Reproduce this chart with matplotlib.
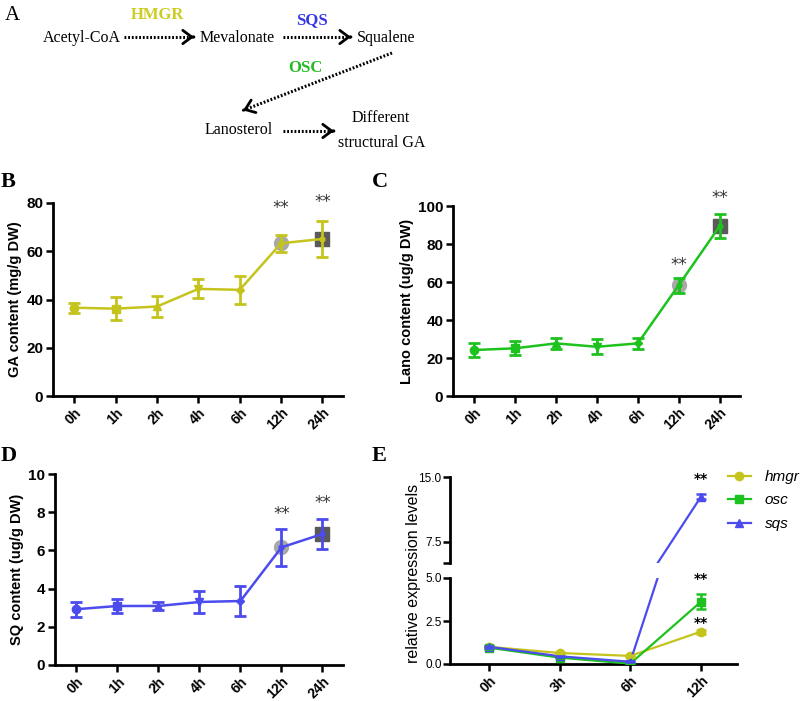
import matplotlib
matplotlib.use("Agg")
import matplotlib.pyplot as plt
import numpy as np

plt.rcParams['font.family'] = ['Liberation Sans', 'DejaVu Sans']

# ---------------- data ----------------
time_labels = ['0h', '1h', '2h', '4h', '6h', '12h', '24h']
ga_mean = [36.6, 36.2, 37.1, 44.4, 44.0, 63.3, 65.1]
ga_err = [2.0, 4.7, 4.4, 3.9, 5.7, 3.6, 7.6]
lano_mean = [24.2, 25.1, 27.7, 25.9, 27.7, 58.3, 89.3]
lano_err = [3.5, 3.7, 2.9, 3.9, 3.0, 4.0, 6.4]
sq_mean = [2.92, 3.09, 3.09, 3.30, 3.35, 6.16, 6.86]
sq_err = [0.40, 0.35, 0.19, 0.60, 0.80, 0.98, 0.80]

expr_labels = ['0h', '3h', '6h', '12h']
hmgr = [1.0, 0.64, 0.47, 1.88]
hmgr_err = [0.05, 0.05, 0.05, 0.12]
osc = [0.95, 0.37, 0.02, 3.62]
osc_err = [0.08, 0.05, 0.02, 0.45]
sqs = [1.0, 0.45, 0.13, 12.7]
sqs_err = [0.06, 0.04, 0.03, 0.3]

YEL = '#c4c41c'
GRN = '#1ec21e'
BLU = '#4b4bee'

fig = plt.figure(figsize=(8, 7.01), dpi=100)
W, H = 800.0, 701.0


def rect(l, t, r, b):
    return [l / W, 1 - b / H, (r - l) / W, (b - t) / H]


def fx(x):
    return x / W


def fy(y):
    return 1 - y / H


# ---------------- panel A ----------------
serif = ['Liberation Serif', 'DejaVu Serif']
fig.text(fx(5), fy(15), 'A', family=serif, fontsize=15, ha='left', va='center')
txt_kw = dict(family=serif, fontsize=11.5, ha='center', va='center')
fig.text(fx(82), fy(38), 'Acetyl-CoA', **txt_kw)
fig.text(fx(237), fy(38), 'Mevalonate', **txt_kw)
fig.text(fx(386), fy(38), 'Squalene', **txt_kw)
fig.text(fx(239), fy(130), 'Lanosterol', **txt_kw)
fig.text(fx(381), fy(118), 'Different', **txt_kw)
fig.text(fx(382), fy(143), 'structural GA', **txt_kw)
enz_kw = dict(family=serif, fontsize=12, fontweight='bold', ha='center', va='center')
fig.text(fx(157), fy(15), 'HMGR', color='#cccc22', **enz_kw)
fig.text(fx(312), fy(20), 'SQS', color='#3636e8', **enz_kw)
fig.text(fx(305), fy(68), 'OSC', color='#22bb22', **enz_kw)


def dotted_arrow(x0, y0, x1, y1):
    p0 = (fx(x0), fy(y0))
    p1 = (fx(x1), fy(y1))
    fig.add_artist(matplotlib.lines.Line2D([p0[0], p1[0]], [p0[1], p1[1]],
                                           transform=fig.transFigure, color='black',
                                           lw=2.2, linestyle=(0, (0.6, 0.6))))
    d = np.array([x1 - x0, y1 - y0], dtype=float)
    d /= np.hypot(*d)
    pre = (fx(x1 - d[0] * 2), fy(y1 - d[1] * 2))
    fig.add_artist(matplotlib.patches.FancyArrowPatch(
        pre, (fx(x1 + d[0] * 1), fy(y1 + d[1] * 1)), transform=fig.transFigure,
        arrowstyle='->,head_length=4,head_width=3', mutation_scale=1.6,
        color='black', lw=2))


dotted_arrow(124, 37, 193, 37)
dotted_arrow(283, 37, 350, 37)
dotted_arrow(392, 53, 244, 110)
dotted_arrow(283, 131, 333, 131)

# ---------------- time course panels ----------------
markers = ['o', 's', '^', 'v', 'D', 'o', 's']
msizes = [6, 6, 6, 6, 4, 6, 6]
tick_font = dict(fontsize=11, fontweight='bold')
xtick_font = dict(fontsize=10, fontweight='bold')


def style_axes(ax):
    for s in ['top', 'right']:
        ax.spines[s].set_visible(False)
    for s in ['left', 'bottom']:
        ax.spines[s].set_linewidth(2)
    ax.tick_params(width=1.8, length=5, direction='out', pad=2)


def course(ax, mean, err, color, ylim, yticks, ylabel, stars_y):
    x = np.arange(len(mean))
    # grey markers for 12h and 24h
    ax.plot(x[5], mean[5], marker='o', ms=10, color='#a8a8a8', zorder=2, clip_on=False)
    ax.plot(x[6], mean[6], marker='s', ms=10, color='#5a5a5a', zorder=2, clip_on=False)
    ax.plot(x, mean, color=color, lw=1.8, zorder=3, clip_on=False)
    ax.errorbar(x, mean, yerr=err, fmt='none', ecolor=color, elinewidth=2,
                capsize=4, capthick=2, zorder=4, clip_on=False)
    for i in range(5):
        ax.plot(x[i], mean[i], marker=markers[i], ms=msizes[i], color=color,
                zorder=5, clip_on=False)
    for i in (5, 6):
        ax.plot(x[i], mean[i], marker='o', ms=3.5, color=color, zorder=5, clip_on=False)
    for i, ys in zip((5, 6), stars_y):
        ax.text(x[i], ys, '**', ha='center', va='baseline', fontsize=12,
                color='#333333', family=['DejaVu Sans'])
    ax.set_ylim(*ylim)
    ax.set_xlim(-0.52, 6.5)
    ax.set_yticks(yticks)
    ax.set_yticklabels([str(v) for v in yticks], **tick_font)
    ax.set_xticks(x)
    ax.set_xticklabels(time_labels, rotation=45, ha='right', rotation_mode='anchor',
                       **xtick_font)
    ax.set_ylabel(ylabel, fontsize=10.5, fontweight='bold', labelpad=3)
    style_axes(ax)


axB = fig.add_axes(rect(53, 203, 343, 396))
course(axB, ga_mean, ga_err, YEL, (0, 80), [0, 20, 40, 60, 80],
       'GA content (mg/g DW)', [75.9, 78.4])
axC = fig.add_axes(rect(453, 206, 740, 396))
course(axC, lano_mean, lano_err, GRN, (0, 100), [0, 20, 40, 60, 80, 100],
       'Lano content (ug/g DW)', [66.2, 101.4])
axD = fig.add_axes(rect(55, 474, 343, 665))
course(axD, sq_mean, sq_err, BLU, (0, 10), [0, 2, 4, 6, 8, 10],
       'SQ content (ug/g DW)', [7.66, 8.23])

letter_kw = dict(family=serif, fontsize=16, fontweight='bold', ha='left', va='center')
fig.text(fx(1), fy(182), 'B', **letter_kw)
fig.text(fx(372), fy(182), 'C', **letter_kw)
fig.text(fx(1), fy(456), 'D', **letter_kw)
fig.text(fx(372), fy(456), 'E', **letter_kw)

# ---------------- panel E (broken axis) ----------------
axEl = fig.add_axes(rect(450, 578, 737, 664))
axEu = fig.add_axes(rect(450, 477, 737, 563))
xe = np.arange(len(expr_labels))
series = [(hmgr, hmgr_err, YEL, 'o', 'hmgr'),
          (osc, osc_err, GRN, 's', 'osc'),
          (sqs, sqs_err, BLU, '^', 'sqs')]
handles = []
for ax in (axEl, axEu):
    for vals, errs, col, mk, lab in series:
        ln, = ax.plot(xe, vals, color=col, lw=1.6, marker=mk, ms=6, label=lab, zorder=3)
        ax.errorbar(xe, vals, yerr=errs, fmt='none', ecolor=col, elinewidth=1.8,
                    capsize=3.5, capthick=1.8, zorder=4)
        if ax is axEl:
            handles.append(ln)
    ax.set_xlim(-0.55, 3.51)

axEl.set_ylim(0, 5)
axEl.set_yticks([0, 2.5, 5.0])
axEl.set_yticklabels(['0.0', '2.5', '5.0'], fontsize=8.5)
axEl.set_xticks(xe)
axEl.set_xticklabels(expr_labels, rotation=45, ha='right', rotation_mode='anchor',
                     **xtick_font)
style_axes(axEl)
axEl.tick_params(axis='y', pad=1)

axEu.set_ylim(5, 15)
axEu.set_yticks([5, 7.5, 15.0])
axEu.set_yticklabels(['', '7.5', '15.0'], fontsize=8.5)
axEu.set_xticks([])
style_axes(axEu)
axEu.tick_params(axis='y', pad=1)
axEu.spines['bottom'].set_visible(False)

axEl.text(3, 2.15, '**', ha='center', va='baseline', fontsize=10, fontweight='bold',
          family=['DejaVu Sans'])
axEl.text(3, 4.7, '**', ha='center', va='baseline', fontsize=10, fontweight='bold',
          family=['DejaVu Sans'])
axEu.text(3, 14.3, '**', ha='center', va='baseline', fontsize=10, fontweight='bold',
          family=['DejaVu Sans'], clip_on=False)

fig.text(fx(414), fy(573), 'relative expression levels', rotation=90, fontsize=11.5,
         ha='center', va='center')

fig.legend(handles=handles, labels=[h.get_label() for h in handles],
           loc='upper left', bbox_to_anchor=(fx(728), fy(470)), frameon=False,
           borderpad=0, borderaxespad=0, handlelength=1.5, handletextpad=0.9,
           labelspacing=0.62, prop={'style': 'italic', 'size': 11})

fig.savefig('out.png', dpi=100)
